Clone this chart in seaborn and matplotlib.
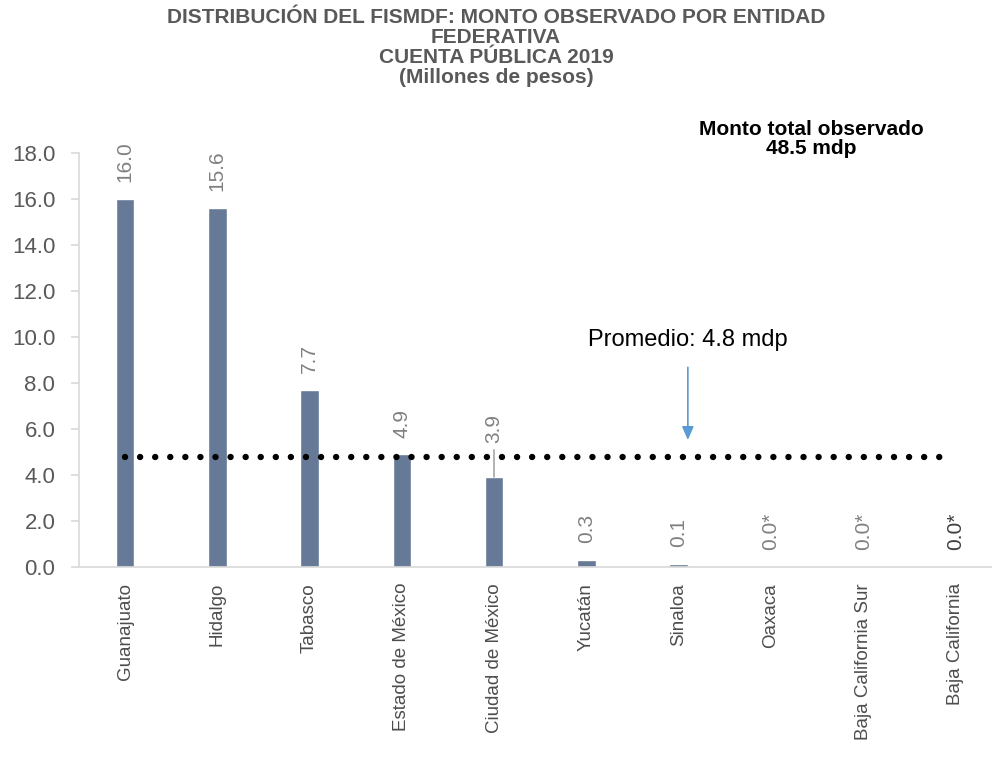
import numpy as np
import pandas as pd
import matplotlib.pyplot as plt
import seaborn as sns

estados = ['Guanajuato', 'Hidalgo', 'Tabasco', 'Estado de México', 'Ciudad de México',
           'Yucatán', 'Sinaloa', 'Oaxaca', 'Baja California Sur', 'Baja California']
montos = [16.0, 15.6, 7.7, 4.9, 3.9, 0.3, 0.15, 0.0, 0.0, 0.0]
etiquetas = ['16.0', '15.6', '7.7', '4.9', '3.9', '0.3', '0.1', '0.0*', '0.0*', '0.0*']
promedio = 4.8
total = 48.5

df = pd.DataFrame({'estado': estados, 'monto': montos})

sns.set_style('white')
plt.rcParams['font.family'] = ['Liberation Sans', 'DejaVu Sans']

fig = plt.figure(figsize=(9.92, 7.57), dpi=100)
ax = fig.add_axes([0.0796, 0.251, 0.930, 0.547])

sns.barplot(data=df, x='estado', y='monto', color='#667996', width=0.2,
            saturation=1, ax=ax)

ax.set_ylim(0, 18)
ax.set_xlim(-0.5, 9.5)
yt = np.arange(0, 18.1, 2)
ax.set_yticks(yt)
ax.set_yticklabels([f'{v:.1f}' for v in yt], fontsize=16, color='#595959')
ax.set_xticks(range(len(estados)))
ax.set_xticklabels(estados, rotation=90, fontsize=13.5, color='#4d4d4d')
ax.set_xlabel('')
ax.set_ylabel('')

for s in ['top', 'right']:
    ax.spines[s].set_visible(False)
for s in ['left', 'bottom']:
    ax.spines[s].set_color('#d9d9d9')
    ax.spines[s].set_linewidth(1.2)
ax.tick_params(axis='y', left=True, length=6, color='#d9d9d9', width=1.2, pad=11)
ax.tick_params(axis='x', bottom=False, pad=8)

# etiquetas de valor
for i, (v, t) in enumerate(zip(montos, etiquetas)):
    col = '#404040' if i == len(montos) - 1 else '#808080'
    off = 12
    if t == '3.9':
        off = 25
        ax.plot([i, i], [v, promedio + 0.3], color='#a6a6a6', lw=1.2, zorder=1)
    ax.annotate(t, xy=(i, v), xytext=(0, off), textcoords='offset points',
                rotation=90, ha='center', va='bottom', fontsize=15, color=col)

# linea de promedio
ax.hlines(promedio, 0, 8.9, colors='black', linewidth=4.6,
          linestyles=[(0, (0.01, 2.35))], capstyle='round', zorder=3)
ax.annotate('', xy=(6.1, 5.4), xytext=(6.1, 8.8),
            arrowprops=dict(arrowstyle='-|>,head_width=0.35,head_length=0.8',
                            color='#5b9bd5', lw=1.2))
ax.text(6.1, 9.85, f'Promedio: {promedio} mdp', ha='center', va='center',
        fontsize=17, color='black')

fig.text(0.8175, 0.816, f'Monto total observado\n{total} mdp', ha='center', va='center',
         fontsize=15, fontweight='bold', color='black', linespacing=1.0)

fig.text(0.5, 0.937, 'DISTRIBUCIÓN DEL FISMDF: MONTO OBSERVADO POR ENTIDAD\nFEDERATIVA\n'
         'CUENTA PÚBLICA 2019\n(Millones de pesos)', ha='center', va='center',
         fontsize=15, fontweight='bold', color='#595959', linespacing=1.07)

fig.savefig('out.png', dpi=100)
